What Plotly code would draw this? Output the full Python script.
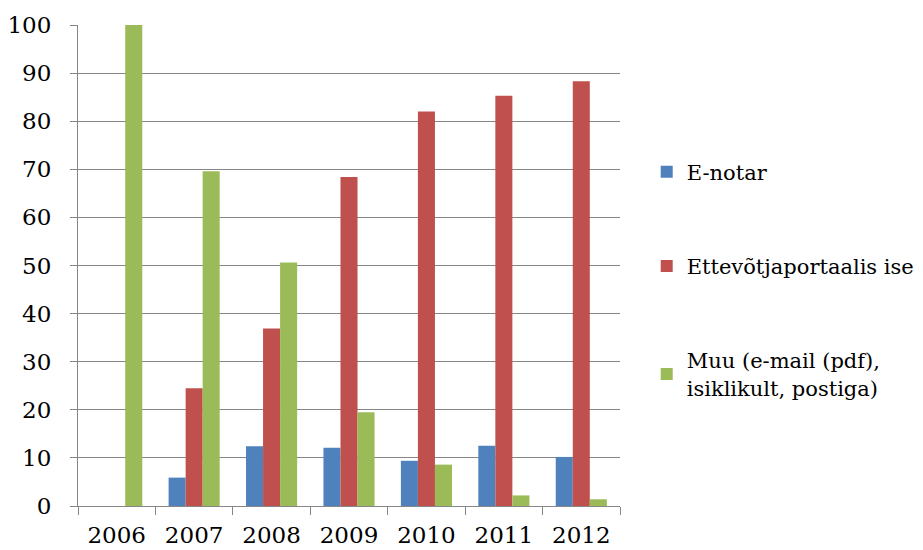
import plotly.graph_objects as go

years = ["2006", "2007", "2008", "2009", "2010", "2011", "2012"]
e_notar = [0, 5.9, 12.4, 12.1, 9.4, 12.5, 10.2]
portaal = [0, 24.5, 36.9, 68.4, 82.0, 85.3, 88.3]
muu = [100, 69.6, 50.6, 19.5, 8.6, 2.2, 1.4]

names = ["E-notar", "Ettevõtjaportaalis ise", "Muu (e-mail (pdf),<br>isiklikult, postiga)"]
colors = ["#4F81BD", "#C0504D", "#9BBB59"]
series = [e_notar, portaal, muu]

font_family = "DejaVu Serif"
fs = 23

fig = go.Figure()
for i, (nm, col, vals) in enumerate(zip(names, colors, series)):
    fig.add_trace(go.Bar(
        x=years, y=vals, name=nm, legendgroup=f"g{i}",
        marker=dict(color=col, line=dict(width=0)),
    ))

fig.update_layout(
    width=923, height=550,
    margin=dict(l=70, r=311, t=16.5, b=52),
    paper_bgcolor="white", plot_bgcolor="white",
    barmode="group", bargap=0.34, bargroupgap=0,
    font=dict(family=font_family, size=fs, color="black"),
    legend=dict(
        xref="container", yref="container",
        x=0.692, y=0.739, xanchor="left", yanchor="top",
        tracegroupgap=64, itemwidth=30,
        font=dict(family=font_family, size=21, color="black"),
    ),
    xaxis=dict(
        type="category", showgrid=False, showline=True, linecolor="#868686", linewidth=1,
        ticks="outside", tickson="boundaries", ticklen=8, tickcolor="#868686",
        automargin=False, ticklabelstandoff=8,
        tickfont=dict(family=font_family, size=fs, color="black"),
    ),
    yaxis=dict(
        range=[0, 100], dtick=10, showgrid=True, gridcolor="#868686", gridwidth=1,
        showline=True, linecolor="#868686", linewidth=1,
        ticks="outside", ticklen=7, tickcolor="#868686",
        ticklabelstandoff=14, zeroline=False, automargin=False,
        tickfont=dict(family=font_family, size=fs, color="black"),
    ),
)

fig.write_html("out.html")
